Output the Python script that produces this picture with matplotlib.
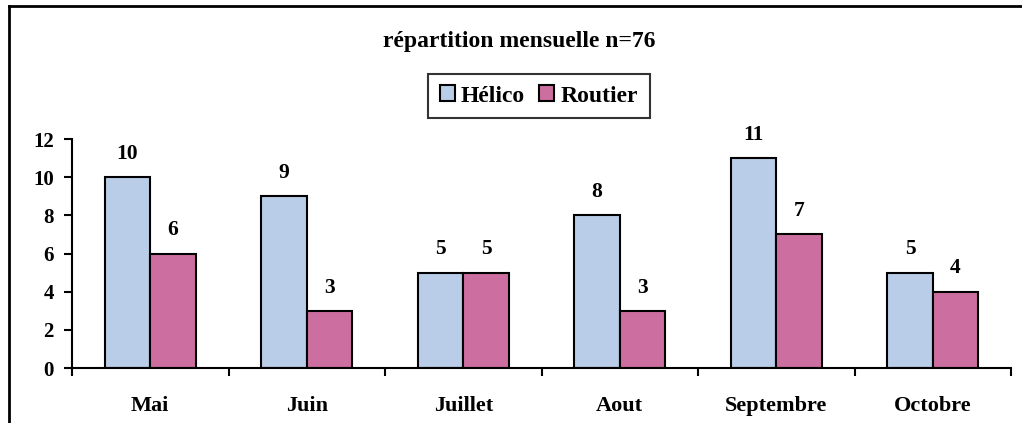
import matplotlib
matplotlib.use("Agg")
import matplotlib.pyplot as plt
import numpy as np
from matplotlib.lines import Line2D

months = ["Mai", "Juin", "Juillet", "Aout", "Septembre", "Octobre"]
helico = [10, 9, 5, 8, 11, 5]
routier = [6, 3, 5, 3, 7, 4]
series_names = ["Hélico", "Routier"]
title = "répartition mensuelle n=76"
yticks = [0, 2, 4, 6, 8, 10, 12]

c_helico = "#b9cde8"
c_routier = "#cc6fa0"
font = "Liberation Serif"

fig = plt.figure(figsize=(10.22, 4.23), dpi=100)
ax = fig.add_axes([72/1022, 55/423, 939/1022, 229/423])

x = np.arange(len(months))
w = 0.29
b1 = ax.bar(x - w/2, helico, w, color=c_helico, edgecolor="black", linewidth=1.5, label=series_names[0])
b2 = ax.bar(x + w/2, routier, w, color=c_routier, edgecolor="black", linewidth=1.5, label=series_names[1])

for bars, vals in ((b1, helico), (b2, routier)):
    for rect, v in zip(bars, vals):
        ax.annotate(str(v), (rect.get_x() + rect.get_width()/2, rect.get_height()),
                    xytext=(0, 9.5), textcoords="offset points", ha="center", va="bottom",
                    fontsize=15.5, fontweight="bold", family=font)

ax.set_xlim(-0.5, len(months) - 0.5)
ax.set_ylim(0, 12)
ax.set_yticks(yticks)
ax.set_yticklabels([str(t) for t in yticks], fontsize=15, fontweight="bold", family=font)
ax.set_xticks(x)
ax.set_xticklabels(months, fontsize=16, fontweight="bold", family=font)
ax.set_xticks(np.arange(-0.5, len(months), 1.0), minor=True)
ax.tick_params(axis="x", which="major", length=0, pad=20)
ax.tick_params(axis="x", which="minor", length=6, width=1.5, direction="out")
ax.tick_params(axis="y", length=6, width=1.5, direction="out", pad=7)

for s in ("top", "right"):
    ax.spines[s].set_visible(False)
for s in ("left", "bottom"):
    ax.spines[s].set_linewidth(1.5)

leg = ax.legend(loc="center", bbox_to_anchor=(0.497, 1.188), ncol=2, frameon=True,
                fancybox=False, edgecolor="black", handlelength=0.65, handleheight=0.65,
                handletextpad=0.25, columnspacing=0.6, borderpad=0.5,
                prop={"family": font, "weight": "bold", "size": 17})
leg.get_frame().set_linewidth(1.5)

fig.text(519/1022, (423-42)/423, title, ha="center", va="center",
         fontsize=17, fontweight="bold", family=font)

# outer frame (scan border)
fig.add_artist(Line2D([8.5/1022, 8.5/1022], [0, 417/423], color="black", lw=2, transform=fig.transFigure))
fig.add_artist(Line2D([8.5/1022, 1.0], [417/423, 417/423], color="black", lw=2, transform=fig.transFigure))

fig.savefig("out.png", dpi=100)
